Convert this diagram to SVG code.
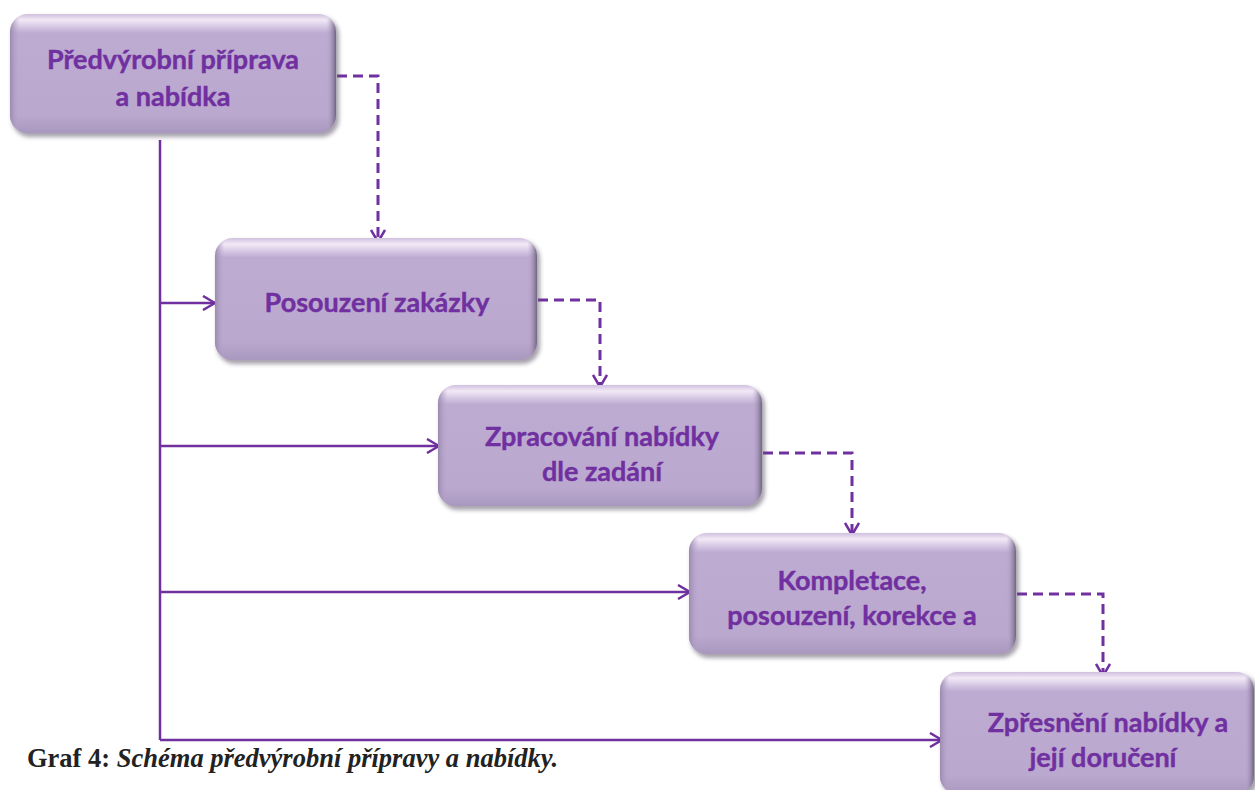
<svg xmlns="http://www.w3.org/2000/svg" width="1255" height="790" viewBox="0 0 1255 790">
<defs>
<linearGradient id="face" x1="0" y1="0" x2="0" y2="1">
<stop offset="0" stop-color="#CFC0DF"/>
<stop offset="0.05" stop-color="#F2E9F6"/>
<stop offset="0.1" stop-color="#D9CCE6"/>
<stop offset="0.16" stop-color="#BEABD2"/>
<stop offset="0.85" stop-color="#BBA8CF"/>
<stop offset="1" stop-color="#A897BE"/>
</linearGradient>
<linearGradient id="side" x1="0" y1="0" x2="1" y2="0">
<stop offset="0" stop-color="#9A8AAE"/>
<stop offset="0.03" stop-color="#BBA8CF" stop-opacity="0"/>
<stop offset="0.97" stop-color="#BBA8CF" stop-opacity="0"/>
<stop offset="1" stop-color="#6F6480"/>
</linearGradient>
<filter id="sh" x="-5%" y="-5%" width="110%" height="115%">
<feGaussianBlur stdDeviation="2"/>
</filter>
<marker id="ah" viewBox="0 0 14 16" refX="13" refY="8" markerWidth="14" markerHeight="16" markerUnits="userSpaceOnUse" orient="auto">
<path d="M1,1 L13,8 L1,15" fill="none" stroke="#7030A0" stroke-width="2.5"/>
</marker>
</defs>
<style>
.sh{fill:#5E5568;opacity:0.55;filter:url(#sh)}
.bx{fill:url(#face)}
.sd{fill:url(#side)}
.t{font-family:Lato,"Open Sans",sans-serif;font-weight:bold;font-size:27px;fill:#7030A0;stroke:#7030A0;stroke-width:0.4;text-anchor:middle}
.solid{fill:none;stroke:#7030A0;stroke-width:2.5}
.dash{fill:none;stroke:#7030A0;stroke-width:3;stroke-dasharray:10,6}
.cap{font-family:"Liberation Serif",serif;font-weight:bold;font-size:26.5px;fill:#222}
</style>
<g id="connectors">
<path class="solid" d="M160,140 V740"/>
<path class="solid" d="M160,303 H215" marker-end="url(#ah)"/>
<path class="solid" d="M160,446 H439" marker-end="url(#ah)"/>
<path class="solid" d="M160,592 H690" marker-end="url(#ah)"/>
<path class="solid" d="M160,740 H942" marker-end="url(#ah)"/>
<path class="dash" d="M337,76 H378 V242" marker-end="url(#ah)"/>
<path class="dash" d="M538,300 H600 V387" marker-end="url(#ah)"/>
<path class="dash" d="M763,453 H852 V535" marker-end="url(#ah)"/>
<path class="dash" d="M1017,594 H1103 V676" marker-end="url(#ah)"/>
</g>
<g id="n1">
<rect class="sh" x="12" y="17" width="327" height="120" rx="18"/>
<rect class="bx" x="10" y="14" width="326" height="119" rx="18"/>
<rect class="sd" x="10" y="14" width="326" height="119" rx="18"/>
<text class="t" x="173" y="69">Předvýrobní příprava</text>
<text class="t" x="173" y="106">a nabídka</text>
</g>
<g id="n2">
<rect class="sh" x="217" y="241" width="323" height="123" rx="18"/>
<rect class="bx" x="215" y="238" width="322" height="122" rx="18"/>
<rect class="sd" x="215" y="238" width="322" height="122" rx="18"/>
<text class="t" x="377" y="312">Posouzení zakázky</text>
</g>
<g id="n3">
<rect class="sh" x="440" y="388" width="325" height="122" rx="18"/>
<rect class="bx" x="438" y="385" width="324" height="121" rx="18"/>
<rect class="sd" x="438" y="385" width="324" height="121" rx="18"/>
<text class="t" x="602" y="446">Zpracování nabídky</text>
<text class="t" x="602" y="481">dle zadání</text>
</g>
<g id="n4">
<rect class="sh" x="691" y="536" width="328" height="122" rx="18"/>
<rect class="bx" x="689" y="533" width="327" height="121" rx="18"/>
<rect class="sd" x="689" y="533" width="327" height="121" rx="18"/>
<text class="t" x="852" y="590">Kompletace,</text>
<text class="t" x="852" y="625">posouzení, korekce a</text>
</g>
<g id="n5">
<rect class="sh" x="942" y="675" width="316" height="122" rx="18"/>
<rect class="bx" x="940" y="672" width="314" height="122" rx="18"/>
<rect class="sd" x="940" y="672" width="314" height="122" rx="18"/>
<text class="t" x="1108" y="732">Zpřesnění nabídky a</text>
<text class="t" x="1103" y="767">její doručení</text>
</g>
<text class="cap" x="27" y="767">Graf 4: <tspan font-style="italic">Schéma předvýrobní přípravy a nabídky.</tspan></text>
</svg>
